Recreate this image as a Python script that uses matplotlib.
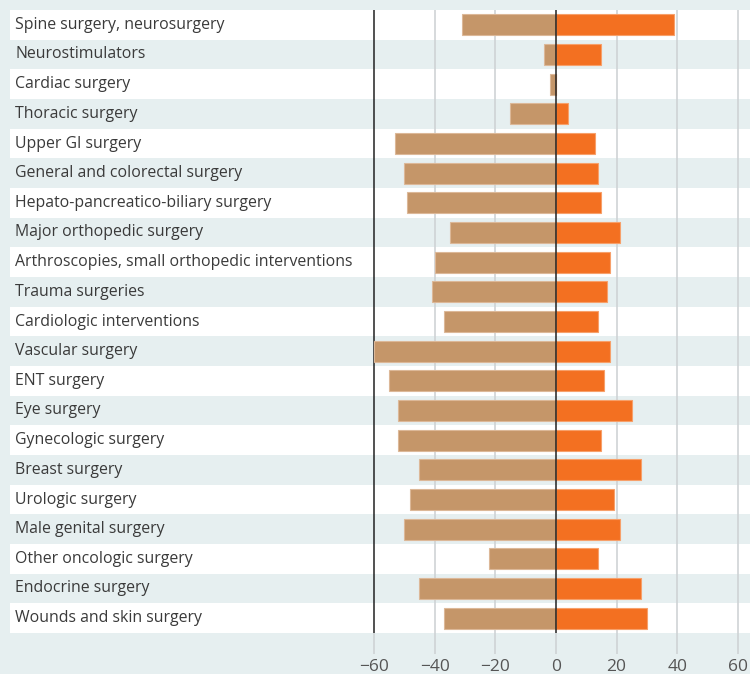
import numpy as np
import matplotlib.pyplot as plt
import matplotlib.transforms as mtransforms

categories = [
    "Spine surgery, neurosurgery",
    "Neurostimulators",
    "Cardiac surgery",
    "Thoracic surgery",
    "Upper GI surgery",
    "General and colorectal surgery",
    "Hepato-pancreatico-biliary surgery",
    "Major orthopedic surgery",
    "Arthroscopies, small orthopedic interventions",
    "Trauma surgeries",
    "Cardiologic interventions",
    "Vascular surgery",
    "ENT surgery",
    "Eye surgery",
    "Gynecologic surgery",
    "Breast surgery",
    "Urologic surgery",
    "Male genital surgery",
    "Other oncologic surgery",
    "Endocrine surgery",
    "Wounds and skin surgery",
]
decrease = [-31, -4, -2, -15, -53, -50, -49, -35, -40, -41, -37,
            -60, -55, -52, -52, -45, -48, -50, -22, -45, -37]
increase = [39, 15, 0, 4, 13, 14, 15, 21, 18, 17, 14,
            18, 16, 25, 15, 28, 19, 21, 14, 28, 30]
xticks = [-60, -40, -20, 0, 20, 40, 60]

BG = "#e6eff0"
TAN = "#c59669"
ORANGE = "#f37021"
GRID = "#cfd3d5"
TEXT = "#3a3a3a"

plt.rcParams["font.family"] = ["Open Sans", "DejaVu Sans"]

fig = plt.figure(figsize=(7.5, 6.74), dpi=100, facecolor=BG)
ax = fig.add_axes([10 / 750, 41 / 674, 740 / 750, 623 / 674])
ax.set_facecolor(BG)

n = len(categories)
y = np.arange(n)
ax.set_ylim(n - 0.5, -0.5)
ax.set_xlim(-180, 64)

# alternating white rows
for i in range(0, n, 2):
    ax.axhspan(i - 0.5, i + 0.5, color="white", lw=0, zorder=0)

# grid lines
for t in xticks:
    if t in (-60, 0):
        continue
    ax.axvline(t, color=GRID, lw=1.2, zorder=1)
ax.axvline(-60, color="#222222", lw=1.1, zorder=1)

ax.barh(y, decrease, height=0.7, color=TAN, edgecolor="#dcb898", lw=0.8, zorder=2)
ax.barh(y, increase, height=0.7, color=ORANGE, edgecolor="#f7a06a", lw=0.8, zorder=2)
ax.axvline(0, color="#222222", lw=1.1, zorder=3)

trans = mtransforms.blended_transform_factory(ax.transAxes, ax.transData)
for i, name in enumerate(categories):
    ax.text(0.007, i, name, transform=trans, ha="left", va="center",
            fontsize=11.4, color=TEXT, zorder=4)

for s in ax.spines.values():
    s.set_visible(False)
ax.set_yticks([])
ax.set_xticks(xticks)
ax.set_xticklabels([("\u2212" + str(-t)) if t < 0 else str(t) for t in xticks])
ax.tick_params(axis="x", length=15, width=1.2, pad=4, labelsize=12.5,
               labelcolor="#555555", color=GRID)
for t, tk in zip(xticks, ax.xaxis.get_major_ticks()):
    if t in (-60, 0):
        tk.tick1line.set_color("#222222")

fig.savefig("out.png", dpi=100, facecolor=BG)
